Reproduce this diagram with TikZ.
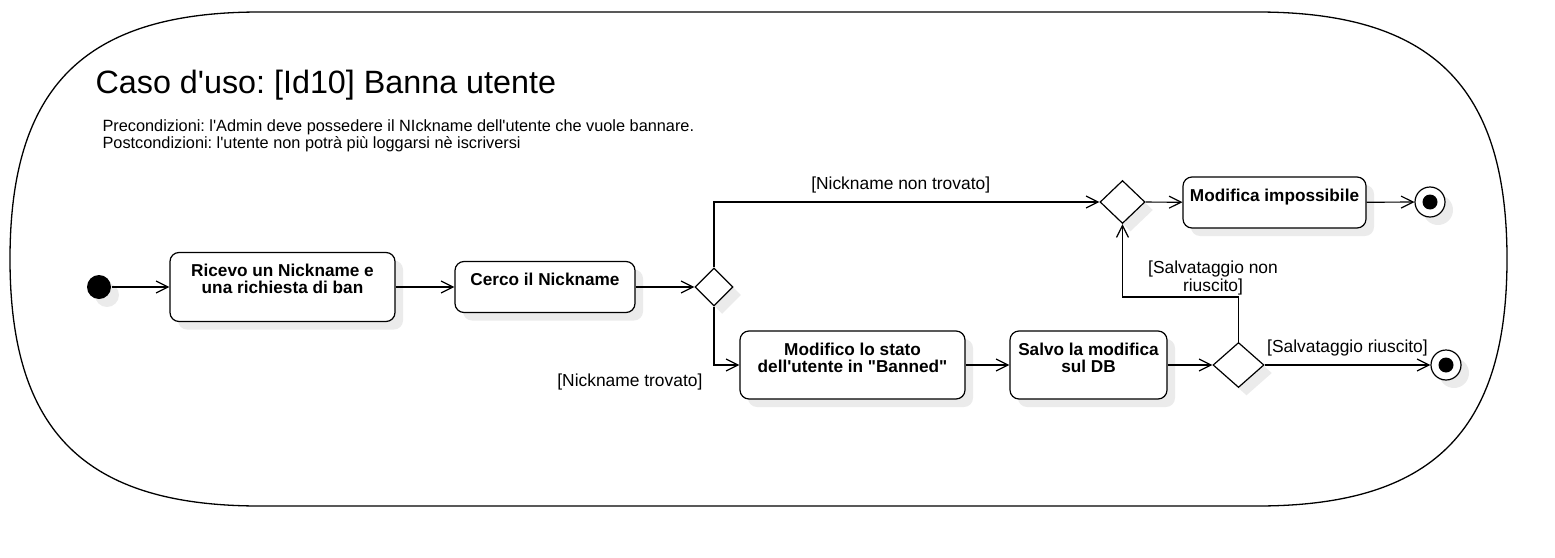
\documentclass[tikz,border=0pt]{standalone}
\usepackage{fontspec}
\setmainfont{Liberation Sans}[Ligatures=TeXOff]
\usetikzlibrary{shapes.geometric,arrows.meta,shadows}
\frenchspacing

\begin{document}
\begin{tikzpicture}[x=1pt,y=-1pt,line width=1.2pt,
  >={Straight Barb[length=12pt,width=12pt]},
  actshadow/.style={drop shadow={shadow xshift=8pt,shadow yshift=-8pt,fill=black!8,opacity=1}},
  act/.style={draw,rounded corners=9pt,fill=white,actshadow,inner sep=0pt},
  acttext/.style={anchor=north,yshift=-12pt,inner sep=0pt,align=center,font=\bfseries\fontsize{17.2}{17}\selectfont},
  dec/.style={diamond,draw,fill=white,actshadow,inner sep=0pt},
  lbl/.style={font=\fontsize{17.4}{18}\selectfont,inner xsep=2pt,inner ysep=8pt},
  fin/.style={circle,draw,fill=white,actshadow,minimum size=30pt,inner sep=0pt,
    path picture={\fill[black] (path picture bounding box.center) circle (7.5pt);}}]
\useasboundingbox (0,0) rectangle (1555,557);

\draw[line width=1.3pt] (260,12) -- (1257,12) .. controls (1432,12) and (1507,86) .. (1507,259)
  .. controls (1507,432) and (1432,506) .. (1257,506) -- (260,506)
  .. controls (85,506) and (10,432) .. (10,259) .. controls (10,86) and (85,12) .. (260,12) -- cycle;

\node[anchor=base west,inner sep=0pt,font=\fontsize{32.3}{34}\selectfont] (titolo) at (95,93) {Caso d'uso: [Id10] Banna utente};
\node[anchor=north west,inner sep=0pt,align=left,font=\fontsize{16.3}{17}\selectfont] (condizioni) at (102,118.8)
  {Precondizioni: l'Admin deve possedere il NIckname dell'utente che vuole bannare.\\Postcondizioni: l'utente non potrà più loggarsi nè iscriversi};

\node[circle,fill=black,actshadow,minimum size=24pt,inner sep=0pt] (start) at (99,287) {};
\node[act,minimum width=225pt,minimum height=69pt,label={[acttext]north:Ricevo un Nickname e\\una richiesta di ban}] (ricevo) at (282.5,287) {};
\node[act,minimum width=180pt,minimum height=51pt,label={[acttext]north:Cerco il Nickname}] (cerco) at (545,287) {};
\node[dec,minimum width=38pt,minimum height=38pt] (dec1) at (714,287) {};
\node[dec,minimum width=45pt,minimum height=43pt] (dec2) at (1122.5,202) {};
\node[act,minimum width=183pt,minimum height=51pt,label={[acttext]north:Modifica impossibile}] (impossibile) at (1274.5,202.5) {};
\node[fin] (end1) at (1430,202) {};
\node[act,minimum width=225pt,minimum height=68pt,label={[acttext]north:Modifico lo stato\\dell'utente in "Banned"}] (modifico) at (852.5,365) {};
\node[act,minimum width=157pt,minimum height=68pt,label={[acttext]north:Salvo la modifica\\sul DB}] (salvo) at (1088.5,365) {};
\node[dec,minimum width=51pt,minimum height=45pt] (dec3) at (1238.5,365) {};
\node[fin] (end2) at (1446,365) {};
\node[lbl,inner ysep=0pt,align=center] (nonriuscito) at (1213,277.7) {[Salvataggio non\\riuscito]};

\draw[->] (start) -- (ricevo);
\draw[->] (ricevo) -- (cerco);
\draw[->] (cerco) -- (dec1);
\draw[->] (dec1) |- (dec2) node[lbl,above,pos=0.75,xshift=-6pt] {[Nickname non trovato]};
\draw[->] (dec2) -- (impossibile);
\draw[->] (impossibile) -- (end1);
\draw[->] (dec1) |- (modifico) node[lbl,below left,pos=0.5,xshift=-9pt] {[Nickname trovato]};
\draw[->] (modifico) -- (salvo);
\draw[->] (salvo) -- (dec3);
\draw[->] (dec3) -- (end2) node[lbl,above,midway] {[Salvataggio riuscito]};
\draw[->] (dec3) -- ++(0,-68) -| (dec2);
\end{tikzpicture}
\end{document}
